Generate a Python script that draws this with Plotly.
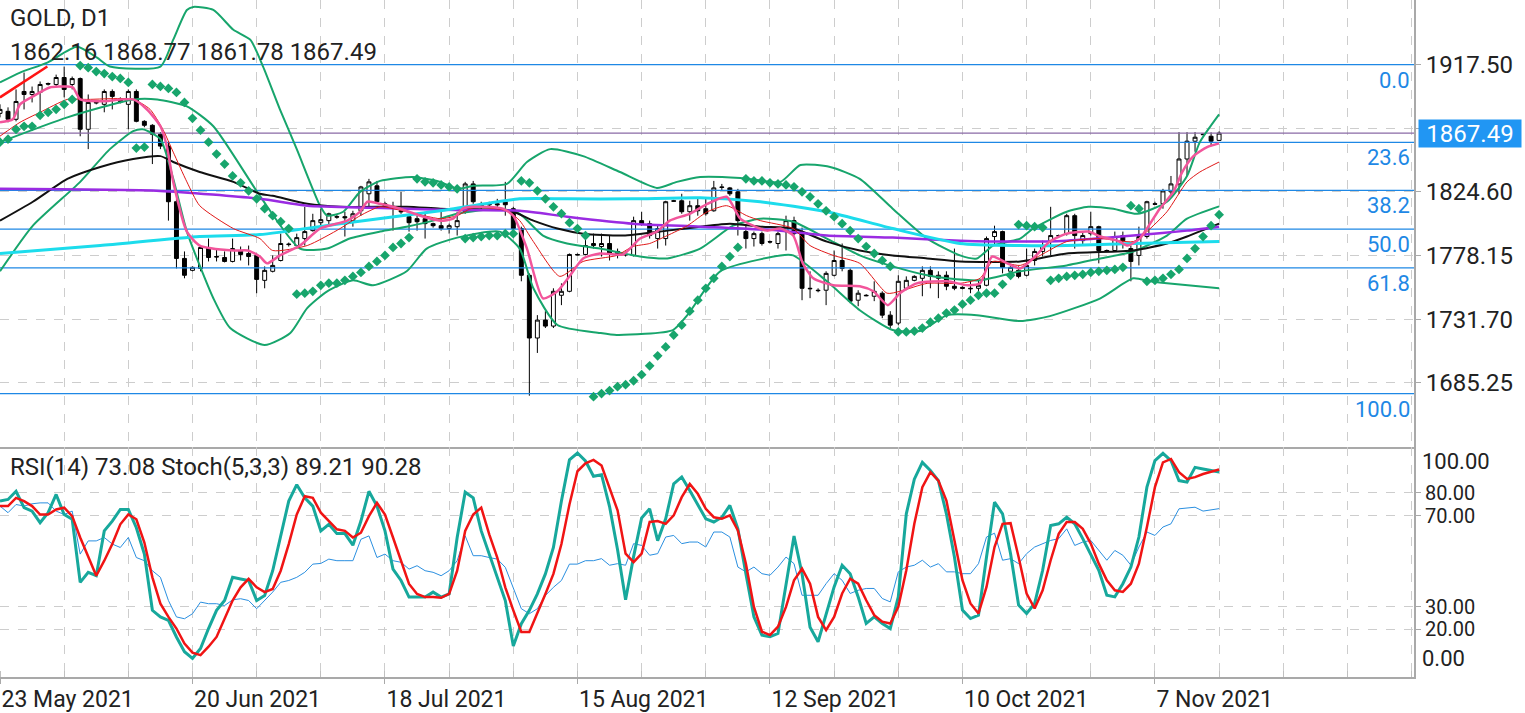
import plotly.graph_objects as go

# ---------------- data ----------------
bar_idx = list(range(153))  # daily bars, 0 = 23 May 2021

open_ = [1881.9, 1883.4, 1877.6, 1897.9, 1895.7, 1897.2, 1903.7, 1903.0, 1908.1, 1903.0,
         1907.3, 1870.3, 1889.9, 1888.5, 1897.9, 1892.1, 1888.5, 1897.9, 1876.1, 1873.2,
         1866.7, 1858.0, 1817.4, 1776.0, 1767.3, 1768.7, 1784.0, 1777.4, 1776.7, 1773.8,
         1781.8, 1779.6, 1778.2, 1760.0, 1766.6, 1774.5, 1786.1, 1785.4, 1790.5, 1796.3,
         1802.1, 1803.6, 1806.5, 1806.5, 1803.6, 1810.8, 1823.2, 1829.0, 1815.9, 1814.0,
         1810.8, 1806.5, 1805.0, 1805.0, 1801.4, 1799.9, 1797.8, 1799.2, 1810.1, 1830.4,
         1815.2, 1815.9, 1815.9, 1817.4, 1812.3, 1797.8, 1763.7, 1717.9, 1731.0, 1726.6,
         1749.1, 1752.0, 1778.9, 1778.9, 1785.4, 1784.7, 1786.9, 1781.1, 1778.9, 1778.2,
         1803.6, 1801.4, 1790.5, 1790.5, 1818.1, 1818.1, 1810.1, 1814.5, 1812.3, 1810.8,
         1828.2, 1827.5, 1824.6, 1795.6, 1790.5, 1794.1, 1788.3, 1786.9, 1795.6, 1803.6,
         1794.1, 1754.2, 1752.8, 1752.8, 1763.7, 1774.5, 1767.3, 1745.5, 1749.1, 1748.4,
         1750.6, 1734.6, 1728.8, 1754.2, 1760.0, 1761.5, 1767.3, 1761.5, 1763.7, 1755.7,
         1754.9, 1754.2, 1754.2, 1756.4, 1792.0, 1795.6, 1766.6, 1767.3, 1763.7, 1774.5,
         1781.1, 1789.0, 1792.7, 1794.1, 1807.2, 1789.0, 1794.1, 1799.2, 1781.8, 1781.8,
         1792.7, 1783.2, 1778.2, 1792.0, 1815.9, 1815.9, 1824.6, 1830.4, 1848.6, 1861.6,
         1866.7, 1865.2, 1862.16]
high = [1888.5, 1886.3, 1899.4, 1911.7, 1901.5, 1905.2, 1904.4, 1910.2, 1916.1, 1908.8,
        1908.1, 1895.7, 1891.4, 1899.4, 1899.4, 1893.6, 1899.4, 1899.4, 1876.9, 1874.0,
        1868.2, 1860.9, 1819.5, 1781.1, 1770.2, 1785.4, 1790.5, 1783.2, 1781.1, 1790.5,
        1784.7, 1785.4, 1779.6, 1770.2, 1778.2, 1794.1, 1787.6, 1794.1, 1813.7, 1808.6,
        1812.3, 1809.4, 1807.9, 1810.1, 1810.8, 1829.0, 1834.1, 1832.6, 1817.4, 1817.4,
        1824.6, 1808.6, 1807.2, 1810.1, 1802.1, 1810.1, 1801.4, 1810.1, 1831.9, 1832.6,
        1817.4, 1817.4, 1819.5, 1831.9, 1813.7, 1799.2, 1765.1, 1734.6, 1737.5, 1754.2,
        1757.8, 1779.6, 1779.6, 1794.1, 1794.1, 1794.1, 1792.7, 1783.2, 1781.1, 1806.5,
        1810.1, 1803.6, 1799.9, 1818.1, 1818.8, 1823.2, 1818.1, 1819.5, 1819.5, 1832.6,
        1830.4, 1828.2, 1826.8, 1799.9, 1795.6, 1795.6, 1789.0, 1795.6, 1807.2, 1806.5,
        1798.5, 1766.6, 1754.2, 1766.6, 1781.8, 1786.9, 1768.7, 1752.8, 1749.9, 1759.3,
        1752.0, 1737.5, 1763.7, 1762.9, 1763.7, 1770.2, 1770.2, 1766.6, 1766.6, 1783.2,
        1755.7, 1760.0, 1760.0, 1792.0, 1799.9, 1796.3, 1770.2, 1770.2, 1783.2, 1783.2,
        1789.0, 1813.7, 1793.4, 1808.6, 1808.6, 1795.6, 1810.1, 1799.9, 1782.5, 1795.6,
        1795.6, 1785.4, 1799.2, 1818.1, 1817.4, 1826.8, 1836.2, 1868.2, 1868.2, 1868.2,
        1867.4, 1868.0, 1868.77]
low = [1879.0, 1875.4, 1876.1, 1884.8, 1889.9, 1883.4, 1902.3, 1901.5, 1893.6, 1899.4,
       1865.2, 1855.8, 1888.5, 1882.7, 1884.8, 1889.2, 1870.3, 1875.4, 1871.8, 1844.9,
       1855.8, 1803.6, 1768.7, 1761.5, 1766.6, 1766.6, 1773.8, 1773.8, 1773.1, 1773.1,
       1774.5, 1770.9, 1750.6, 1754.2, 1765.8, 1773.8, 1784.7, 1783.2, 1785.4, 1795.6,
       1797.8, 1800.0, 1805.0, 1792.0, 1799.2, 1807.2, 1813.7, 1815.9, 1812.3, 1796.3,
       1808.6, 1795.6, 1796.3, 1790.5, 1798.5, 1796.3, 1794.1, 1792.7, 1808.6, 1815.9,
       1810.8, 1813.7, 1813.7, 1807.2, 1795.6, 1759.3, 1675.8, 1707.0, 1725.2, 1725.2,
       1741.9, 1751.3, 1778.2, 1778.2, 1783.2, 1777.4, 1774.5, 1776.0, 1777.4, 1777.4,
       1799.9, 1790.5, 1783.2, 1785.4, 1817.4, 1808.6, 1803.6, 1807.2, 1807.2, 1810.1,
       1825.3, 1821.7, 1792.7, 1783.2, 1784.7, 1785.4, 1786.9, 1783.2, 1781.8, 1792.7,
       1745.5, 1747.0, 1751.3, 1741.9, 1762.9, 1766.6, 1743.3, 1741.1, 1748.4, 1744.8,
       1732.4, 1725.2, 1727.3, 1752.8, 1759.3, 1748.4, 1754.2, 1747.0, 1752.8, 1752.8,
       1753.5, 1750.6, 1752.0, 1755.7, 1785.4, 1765.1, 1765.8, 1761.5, 1762.9, 1770.9,
       1777.4, 1778.2, 1792.0, 1792.7, 1783.2, 1785.4, 1792.7, 1772.4, 1781.1, 1781.1,
       1783.2, 1759.3, 1770.9, 1790.5, 1815.2, 1812.3, 1821.7, 1823.2, 1836.2, 1853.9,
       1866.0, 1858.0, 1861.78]
close = [1884.8, 1877.6, 1890.6, 1895.7, 1897.9, 1903.0, 1903.3, 1908.1, 1899.4, 1907.3,
         1870.3, 1889.9, 1889.6, 1897.9, 1894.3, 1890.6, 1897.9, 1876.1, 1873.2, 1866.7,
         1858.0, 1817.4, 1776.0, 1763.7, 1769.5, 1784.0, 1776.7, 1777.1, 1773.8, 1783.2,
         1778.9, 1777.4, 1760.7, 1767.3, 1770.9, 1786.9, 1786.4, 1791.2, 1795.6, 1803.6,
         1804.3, 1808.6, 1806.2, 1805.7, 1808.6, 1828.2, 1831.9, 1817.4, 1814.5, 1813.0,
         1810.1, 1802.1, 1802.8, 1801.4, 1799.9, 1797.8, 1799.9, 1803.6, 1830.4, 1817.4,
         1813.7, 1815.2, 1815.2, 1815.2, 1797.8, 1763.7, 1717.9, 1731.0, 1726.6, 1752.0,
         1752.0, 1778.9, 1778.6, 1785.4, 1786.9, 1786.9, 1779.6, 1778.2, 1778.6, 1803.6,
         1801.4, 1792.7, 1797.8, 1817.4, 1817.8, 1810.1, 1814.5, 1810.8, 1808.6, 1827.5,
         1827.9, 1823.2, 1803.6, 1790.5, 1794.1, 1786.9, 1788.0, 1794.1, 1803.6, 1794.1,
         1754.2, 1753.9, 1752.5, 1765.1, 1774.5, 1768.7, 1744.8, 1750.6, 1748.8, 1752.0,
         1734.6, 1727.3, 1759.3, 1760.0, 1762.9, 1767.3, 1762.9, 1763.7, 1755.7, 1754.2,
         1754.2, 1753.9, 1756.4, 1790.5, 1795.6, 1769.5, 1769.5, 1762.9, 1770.9, 1781.1,
         1785.4, 1792.7, 1792.4, 1807.2, 1792.7, 1792.7, 1799.2, 1781.8, 1781.5, 1792.0,
         1789.0, 1773.8, 1792.0, 1817.4, 1815.6, 1825.3, 1830.4, 1848.6, 1861.6, 1864.5,
         1866.4, 1861.6, 1867.49]

sar = [1860.9, 1863.1, 1870.3, 1872.5, 1872.5, 1880.5, 1882.7, 1884.9, 1888.5, 1892.1,
       1916.8, 1915.3, 1912.4, 1911.0, 1908.8, 1907.4, 1904.5, 1856.6, 1857.3, 1903.0,
       1901.6, 1900.1, 1897.2, 1889.9, 1878.3, 1869.6, 1860.9, 1852.2, 1844.9, 1836.2,
       1831.2, 1825.4, 1819.5, 1812.3, 1807.2, 1802.8, 1797.8, 1749.9, 1750.6, 1752.0,
       1756.4, 1757.9, 1757.9, 1760.0, 1762.9, 1765.8, 1770.2, 1773.8, 1778.2, 1784.0,
       1786.9, 1791.2, 1834.1, 1831.9, 1831.2, 1829.7, 1828.3, 1826.8, 1790.5, 1791.2,
       1792.0, 1792.7, 1792.7, 1794.1, 1794.1, 1832.6, 1831.2, 1825.4, 1819.5, 1813.7,
       1808.7, 1802.1, 1797.8, 1792.7, 1675.1, 1677.3, 1679.5, 1682.4, 1683.8, 1686.7,
       1691.1, 1697.6, 1704.9, 1711.4, 1720.1, 1727.4, 1737.5, 1745.5, 1754.2, 1761.5,
       1770.2, 1777.4, 1784.0, 1834.1, 1832.6, 1832.6, 1831.2, 1830.4, 1829.7, 1828.3,
       1824.6, 1821.0, 1815.9, 1810.8, 1806.5, 1801.4, 1796.3, 1790.5, 1784.7, 1779.6,
       1774.5, 1770.2, 1722.3, 1722.3, 1723.0, 1725.2, 1729.5, 1732.4, 1736.1, 1738.3,
       1742.6, 1745.5, 1749.1, 1750.6, 1750.6, 1757.1, 1763.7, 1800.7, 1799.9, 1799.2,
       1798.5, 1760.0, 1761.5, 1762.9, 1763.7, 1764.4, 1765.8, 1766.6, 1767.3, 1768.0,
       1769.5, 1814.5, 1812.3, 1759.3, 1760.0, 1761.5, 1764.4, 1768.0, 1776.0, 1783.2,
       1792.0, 1799.9, 1807.9]

bb_up_k = [0, 2.5, 5.9, 9.6, 12.1, 13.7, 20.0, 21.6, 23.3, 24.1, 26.6, 29.1, 31.2, 32.8,
           34.9, 37.0, 39.9, 40.8, 42.8, 44.9, 47.4, 51.5, 54.9, 57.0, 59.0, 63.2, 65.7,
           68.6, 72.7, 77.3, 81.9, 84.4, 87.3, 92.3, 97.3, 99.8, 103.5, 107.2, 111.3, 115.6,
           119.7, 121.8, 123.8, 127.2, 128.8, 133.0, 135.7, 138.8, 141.8, 145.5, 148.0,
           149.6, 152]
bb_up_v = [1904.5, 1911.7, 1919.0, 1930.6, 1922.6, 1916.1, 1916.1, 1935.7, 1957.4, 1959.6,
           1957.4, 1942.9, 1935.7, 1916.1, 1884.9, 1855.8, 1814.5, 1807.2, 1810.1, 1824.6,
           1832.6, 1835.5, 1831.9, 1826.8, 1829.0, 1830.4, 1846.4, 1855.8, 1850.7, 1839.1,
           1827.5, 1831.9, 1835.5, 1834.8, 1831.9, 1844.2, 1842.8, 1834.1, 1812.3, 1790.5,
           1778.2, 1776.0, 1785.4, 1790.5, 1797.8, 1810.1, 1813.7, 1812.3, 1808.6, 1817.4,
           1836.2, 1860.9, 1881.2]
bb_mid_k = [0, 8.4, 16.6, 19.6, 23.3, 26.6, 32.4, 37.4, 40.8, 43.6, 47.4, 50.7, 54.0, 57.0,
            62.3, 64.8, 67.7, 70.7, 74.8, 79.8, 83.2, 87.3, 91.4, 94.8, 98.9, 103.1, 107.2,
            111.3, 115.6, 118.1, 122.2, 127.2, 133.0, 137.2, 141.3, 145.5, 148.0, 152]
bb_mid_v = [1860.9, 1879.0, 1892.1, 1892.1, 1887.0, 1872.5, 1821.7, 1783.2, 1783.2, 1790.5,
            1795.6, 1799.2, 1803.6, 1808.6, 1812.3, 1808.6, 1792.7, 1786.9, 1783.2, 1777.4,
            1776.0, 1783.2, 1799.9, 1805.0, 1802.8, 1790.5, 1778.2, 1770.2, 1763.7, 1761.5,
            1760.0, 1766.6, 1770.9, 1776.0, 1781.1, 1792.7, 1805.0, 1814.0]
bb_lo_k = [0, 4.1, 10.0, 13.7, 16.6, 17.8, 20.0, 21.6, 23.3, 26.6, 28.7, 33.0, 36.2, 38.3,
           40.8, 44.0, 46.5, 50.7, 53.2, 57.0, 62.3, 64.8, 66.5, 69.5, 74.8, 76.9, 83.9,
           85.7, 89.8, 97.3, 98.9, 103.1, 107.2, 111.3, 114.7, 118.1, 121.8, 127.2, 130.9,
           137.2, 141.3, 143.4, 145.5, 152]
bb_lo_v = [1766.6, 1799.9, 1831.9, 1855.8, 1868.9, 1870.3, 1863.1, 1834.1, 1795.6, 1746.9,
           1725.2, 1712.8, 1721.6, 1739.7, 1752.0, 1760.0, 1756.4, 1766.6, 1783.2, 1791.2,
           1795.6, 1783.2, 1754.2, 1727.4, 1721.6, 1720.1, 1723.7, 1734.6, 1766.6, 1778.2,
           1778.2, 1759.3, 1738.2, 1723.7, 1723.0, 1734.6, 1734.6, 1730.3, 1733.9, 1746.9,
           1761.5, 1759.3, 1757.8, 1754.2]

ma_black_k = [0, 4.1, 8.4, 12.5, 16.6, 20.0, 21.6, 24.9, 29.1, 32.4, 34.0, 38.3, 42.4, 50.7,
              54.9, 63.6, 66.5, 69.5, 72.7, 77.7, 83.2, 87.3, 91.0, 94.8, 98.9, 103.1, 107.2,
              111.3, 115.6, 119.7, 127.2, 133.0, 141.3, 145.5, 148.0, 152]
ma_black_v = [1803.6, 1817.4, 1834.1, 1842.8, 1848.6, 1850.7, 1846.4, 1839.1, 1831.9, 1823.2,
              1821.7, 1815.9, 1813.7, 1813.7, 1812.3, 1810.8, 1803.6, 1797.8, 1794.1, 1792.7,
              1796.3, 1799.2, 1801.4, 1799.2, 1797.8, 1788.3, 1781.8, 1778.2, 1776.0, 1773.8,
              1773.8, 1779.6, 1781.8, 1786.9, 1792.0, 1801.4]
ma_purple_k = [0, 20.0, 32.4, 38.3, 46.5, 54.9, 64.8, 70.7, 78.9, 87.3, 97.3, 103.1, 111.3,
               119.7, 127.2, 133.0, 141.3, 148.0, 152]
ma_purple_v = [1826.8, 1825.3, 1819.5, 1814.5, 1813.0, 1811.6, 1810.8, 1806.5, 1801.4, 1799.2,
               1796.3, 1792.7, 1791.2, 1789.0, 1788.3, 1789.0, 1792.7, 1796.3, 1799.2]
ma_cyan_k = [0, 12.5, 24.9, 32.4, 42.4, 54.9, 64.8, 70.7, 78.9, 87.3, 94.8, 103.1, 111.3,
             119.7, 127.2, 133.0, 141.3, 152]
ma_cyan_v = [1779.6, 1785.4, 1792.0, 1793.4, 1801.4, 1810.8, 1819.5, 1819.5, 1819.5, 1820.3,
             1817.4, 1810.1, 1797.8, 1786.9, 1785.4, 1785.4, 1786.9, 1788.3]
ma_pink_k = [0, 1.6, 2.5, 4.1, 6.2, 8.4, 9.1, 10.0, 12.5, 16.6, 18.3, 20.0, 20.8, 21.6, 23.3,
             24.9, 29.1, 30.9, 32.4, 33.3, 34.9, 37.4, 39.9, 43.3, 44.9, 45.8, 47.4, 49.9,
             52.4, 54.9, 56.5, 57.7, 59.0, 62.7, 64.0, 65.7, 67.7, 69.5, 71.1, 72.7, 74.8,
             77.7, 79.8, 81.9, 83.5, 86.0, 88.2, 90.6, 92.3, 93.9, 95.6, 97.3, 98.9, 100.1,
             101.4, 103.9, 107.2, 108.9, 110.7, 112.2, 114.3, 118.1, 120.6, 122.2, 123.7,
             125.6, 127.2, 128.8, 130.9, 133.0, 135.7, 137.2, 139.3, 140.6, 142.1, 143.0,
             144.6, 146.3, 147.4, 148.8, 150.5, 152]
ma_pink_v = [1875.4, 1877.6, 1888.5, 1894.3, 1900.8, 1901.5, 1900.8, 1892.1, 1890.7, 1892.1,
             1884.9, 1872.5, 1858.0, 1831.9, 1795.6, 1785.4, 1781.8, 1781.8, 1777.4, 1772.4,
             1778.2, 1785.4, 1797.8, 1803.6, 1810.1, 1817.4, 1815.9, 1812.3, 1807.2, 1803.6,
             1805.0, 1812.3, 1813.7, 1812.3, 1807.2, 1783.2, 1746.9, 1752.0, 1763.7, 1776.0,
             1779.6, 1778.9, 1790.5, 1795.6, 1803.6, 1808.6, 1815.9, 1821.0, 1805.0, 1799.9,
             1796.3, 1797.8, 1792.7, 1772.4, 1761.5, 1756.4, 1755.7, 1752.0, 1741.9, 1750.6,
             1757.8, 1759.3, 1756.4, 1757.8, 1777.4, 1772.4, 1768.7, 1776.0, 1788.3, 1794.1,
             1795.6, 1792.0, 1789.0, 1785.4, 1790.5, 1797.8, 1812.3, 1824.6, 1839.1, 1850.7,
             1857.3, 1860.0]
ma_red_k = [0, 2.5, 5.0, 8.4, 10.8, 16.6, 18.7, 20.3, 21.6, 23.3, 24.9, 29.1, 32.4, 34.0,
            38.3, 42.4, 44.9, 47.4, 50.7, 54.9, 57.0, 59.0, 63.2, 64.8, 66.5, 69.8, 72.7,
            76.9, 78.9, 81.0, 83.2, 85.7, 88.2, 90.6, 93.1, 94.8, 98.9, 101.0, 103.9, 107.2,
            110.6, 112.2, 115.6, 119.7, 122.2, 123.8, 127.2, 129.7, 133.0, 137.2, 141.3,
            143.0, 145.5, 148.0, 149.6, 152]
ma_red_v = [1865.3, 1875.4, 1882.7, 1892.1, 1892.1, 1892.1, 1884.9, 1870.3, 1853.6, 1831.9,
            1814.5, 1797.8, 1790.5, 1781.8, 1785.4, 1797.8, 1807.2, 1813.7, 1810.1, 1805.0,
            1807.2, 1813.0, 1810.8, 1803.6, 1788.3, 1762.9, 1773.8, 1778.2, 1784.7, 1786.9,
            1792.7, 1799.9, 1810.1, 1814.5, 1807.2, 1803.6, 1797.8, 1785.4, 1778.2, 1772.4,
            1750.6, 1752.0, 1757.8, 1757.8, 1761.5, 1773.8, 1770.9, 1778.2, 1788.3, 1790.5,
            1788.3, 1795.6, 1810.1, 1831.9, 1839.1, 1846.4]
ma_red2_k = [0, 5.9]
ma_red2_v = [1893.6, 1916.1]

fib_names = ["0.0", "23.6", "38.2", "50.0", "61.8", "100.0"]
fib_prices = [1917.5, 1860.8, 1825.7, 1797.4, 1769.1, 1677.3]

price_ticks = [1685.25, 1731.70, 1778.15, 1824.60, 1871.05, 1917.50]
osc_ticks = [20, 30, 70, 80]
osc_edge_labels = [100, 0]

tick_idx = [0, 24, 48, 72, 96, 120, 144]
tick_txt = ["23 May 2021", "20 Jun 2021", "18 Jul 2021", "15 Aug 2021",
            "12 Sep 2021", "10 Oct 2021", "7 Nov 2021"]

stoch_main = [76.4, 77.1, 80.7, 73.5, 72.0, 66.9, 71.3, 79.3, 70.5, 68.4,
              40.7, 45.1, 43.6, 63.3, 67.6, 72.7, 72.7, 64.7, 53.1, 28.4,
              25.5, 24.0, 16.7, 10.2, 7.3, 11.6, 20.4, 28.4, 32.7, 42.9,
              42.2, 41.5, 32.7, 34.9, 45.8, 60.4, 76.4, 83.6, 77.8, 74.2,
              63.3, 66.2, 62.1, 62.1, 57.0, 67.6, 80.7, 74.2, 63.3, 46.5,
              41.5, 34.2, 34.2, 34.2, 36.4, 34.2, 35.6, 60.4, 80.3, 77.8,
              63.3, 53.1, 42.9, 32.7, 12.7, 22.5, 28.4, 35.6, 44.4, 56.0,
              76.4, 94.5, 97.5, 94.0, 87.3, 88.0, 74.0, 55.0, 33.0, 52.0,
              69.0, 73.0, 59.0, 68.6, 84.0, 87.0, 81.0, 74.5, 68.6, 67.2,
              69.3, 74.5, 64.2, 44.5, 25.5, 17.5, 16.8, 18.2, 40.0, 61.0,
              44.5, 21.0, 14.6, 27.0, 38.7, 48.2, 44.5, 34.3, 22.6, 25.5,
              22.6, 20.4, 34.3, 70.8, 86.0, 93.4, 89.8, 85.4, 70.8, 51.8,
              28.5, 24.8, 26.3, 51.8, 75.9, 70.8, 53.3, 30.7, 27.0, 31.4,
              46.0, 65.7, 66.4, 69.3, 66.4, 59.9, 53.3, 46.0, 35.0, 34.3,
              40.1, 47.4, 60.6, 82.5, 94.2, 97.4, 94.2, 85.4, 84.7, 91.2,
              90.5, 90.0, 89.21]
stoch_signal = [74.2, 74.2, 77.8, 76.4, 74.2, 70.5, 70.5, 72.7, 73.5, 69.8,
                60.4, 51.6, 43.6, 50.2, 57.5, 66.2, 70.5, 68.4, 58.2, 42.9,
                31.3, 25.5, 20.4, 13.8, 9.8, 8.7, 12.4, 16.7, 24.7, 32.7,
                38.5, 42.2, 38.5, 36.4, 37.8, 45.8, 57.5, 70.5, 78.5, 77.8,
                71.3, 67.6, 64.0, 63.3, 60.4, 62.5, 69.8, 75.6, 70.5, 60.4,
                50.2, 40.0, 35.6, 34.2, 34.2, 33.9, 35.6, 45.8, 63.3, 70.5,
                73.5, 61.8, 51.6, 38.5, 28.4, 18.9, 18.9, 26.9, 35.6, 44.4,
                57.5, 74.9, 89.5, 93.0, 94.5, 92.0, 82.5, 72.3, 53.3, 49.6,
                53.3, 67.2, 67.6, 66.4, 70.1, 78.1, 83.9, 79.6, 73.0, 69.3,
                68.6, 70.1, 63.5, 48.9, 29.9, 19.0, 17.5, 21.2, 29.9, 41.6,
                46.7, 40.1, 25.5, 19.7, 25.5, 35.8, 42.3, 40.1, 32.8, 26.3,
                23.4, 22.6, 29.9, 46.0, 66.4, 82.5, 89.1, 85.4, 76.6, 59.1,
                41.6, 31.4, 27.0, 38.7, 56.2, 66.4, 66.7, 51.8, 35.8, 29.2,
                37.2, 50.4, 62.0, 67.2, 67.2, 64.2, 57.7, 48.9, 41.6, 37.2,
                36.5, 40.1, 48.9, 65.0, 82.5, 93.4, 94.9, 89.1, 86.1, 86.9,
                88.3, 89.3, 90.28]
rsi = [74.2, 71.3, 74.9, 74.2, 75.2, 75.6, 75.6, 72.0, 70.5, 72.0,
       53.1, 58.9, 58.9, 60.4, 57.5, 56.0, 60.4, 51.6, 50.2, 45.8,
       42.9, 32.7, 25.5, 24.7, 26.9, 32.0, 31.3, 31.3, 30.5, 33.0,
       33.5, 32.7, 29.1, 32.7, 36.4, 40.7, 41.5, 42.9, 45.1, 48.7,
       49.0, 50.9, 50.2, 50.2, 50.2, 59.6, 61.1, 51.6, 53.1, 50.2,
       49.5, 46.5, 48.0, 45.8, 45.1, 43.6, 45.8, 50.2, 61.1, 52.4,
       52.4, 51.6, 50.9, 47.3, 38.5, 29.1, 26.9, 29.1, 34.9, 38.5,
       41.5, 48.7, 48.7, 50.2, 50.2, 51.1, 48.2, 48.9, 48.2, 57.7,
       56.9, 52.6, 53.3, 60.6, 61.3, 57.7, 58.4, 58.4, 56.2, 62.8,
       62.8, 60.6, 47.4, 45.3, 47.4, 44.5, 43.8, 47.4, 51.8, 48.9,
       35.0, 35.0, 35.0, 40.1, 44.5, 41.6, 35.8, 37.2, 38.0, 38.0,
       33.6, 32.1, 45.3, 47.4, 48.2, 50.4, 47.4, 48.9, 45.3, 45.3,
       44.5, 44.5, 48.9, 60.6, 62.3, 50.4, 51.1, 48.9, 53.3, 56.2,
       57.7, 59.1, 59.9, 64.2, 56.9, 58.4, 59.1, 54.7, 50.4, 54.7,
       52.6, 48.2, 56.2, 62.8, 61.3, 65.0, 66.4, 73.0, 73.4, 73.7,
       72.0, 72.5, 73.08]

# ---------------- figure ----------------
FONT = "Roboto"
GREEN = "#17a56c"
GRID = "#cdcdcd"
FIB = "#1e88e5"
X_RANGE = [0, 176.3]
SPLIT = 231 / 681

fig = go.Figure()


def add_line(k, v, color, width, shape="spline", xa="x", ya="y"):
    fig.add_trace(go.Scatter(
        x=k, y=v, mode="lines", hoverinfo="skip", showlegend=False, xaxis=xa, yaxis=ya,
        line=dict(color=color, width=width, shape=shape,
                  smoothing=0.6 if shape == "spline" else None)))


# Fibonacci levels and current-price line, spanning the whole axis range
for p in fib_prices:
    add_line(X_RANGE, [p, p], FIB, 1.3, shape="linear")
add_line(X_RANGE, [close[-1], close[-1]], "#8a6aa6", 1.3, shape="linear")

fig.add_trace(go.Candlestick(
    x=bar_idx, open=open_, high=high, low=low, close=close,
    increasing=dict(line=dict(color="#000000", width=1), fillcolor="#ffffff"),
    decreasing=dict(line=dict(color="#000000", width=1), fillcolor="#000000"),
    whiskerwidth=0, hoverinfo="skip", showlegend=False, xaxis="x", yaxis="y"))

add_line(bb_up_k, bb_up_v, GREEN, 2)
add_line(bb_mid_k, bb_mid_v, GREEN, 2)
add_line(bb_lo_k, bb_lo_v, GREEN, 2)
add_line(ma_black_k, ma_black_v, "#111111", 2)
add_line(ma_purple_k, ma_purple_v, "#9a2be2", 2.5)
add_line(ma_cyan_k, ma_cyan_v, "#1cdcec", 3)
add_line(ma_red_k, ma_red_v, "#e01818", 1)
add_line(ma_pink_k, ma_pink_v, "#f2559b", 2.5)
add_line(ma_red2_k, ma_red2_v, "#ff1414", 2.5)

fig.add_trace(go.Scatter(
    x=bar_idx, y=sar, mode="markers", hoverinfo="skip", showlegend=False,
    marker=dict(symbol="diamond", size=7.5, color=GREEN, line=dict(width=0)),
    xaxis="x", yaxis="y"))

add_line(bar_idx, rsi, "#2a8fe0", 1, shape="linear", xa="x2", ya="y2")
add_line(bar_idx, stoch_main, "#17a89c", 3, shape="linear", xa="x2", ya="y2")
add_line(bar_idx, stoch_signal, "#f01414", 2.5, shape="linear", xa="x2", ya="y2")

annotations = []
for name, p in zip(fib_names, fib_prices):
    annotations.append(dict(xref="x domain", yref="y", x=1, y=p, xanchor="right",
                            yanchor="top", xshift=-2, yshift=-1, text=name, showarrow=False,
                            font=dict(family=FONT, size=22, color=FIB)))
annotations.append(dict(xref="x domain", yref="y domain", x=0.006, y=1 - 18 / 450,
                        xanchor="left", yanchor="middle", text="GOLD, D1", showarrow=False,
                        font=dict(family=FONT, size=24, color="#222")))
annotations.append(dict(xref="x domain", yref="y domain", x=0.006, y=1 - 52 / 450,
                        xanchor="left", yanchor="middle",
                        text=f"{open_[-1]:.2f} {high[-1]:.2f} {low[-1]:.2f} {close[-1]:.2f}",
                        showarrow=False, font=dict(family=FONT, size=24, color="#222")))
annotations.append(dict(xref="x2 domain", yref="y2 domain", x=0.006, y=1 - 20 / 231,
                        xanchor="left", yanchor="middle",
                        text=f"RSI(14) {rsi[-1]:.2f} Stoch(5,3,3) {stoch_main[-1]:.2f} {stoch_signal[-1]:.2f}",
                        showarrow=False, font=dict(family=FONT, size=24, color="#222")))
annotations.append(dict(xref="x domain", yref="y", x=1, y=close[-1], xanchor="left",
                        yanchor="middle", xshift=4, text=f"{close[-1]:.2f}", showarrow=False,
                        bgcolor="#2196f3", borderpad=0, width=102, height=27,
                        font=dict(family=FONT, size=24, color="#ffffff")))
edge_pos = {100: 1 - 14 / 231, 0: 19 / 231}
for v in osc_edge_labels:
    annotations.append(dict(xref="x2 domain", yref="y2 domain", x=1, y=edge_pos[v],
                            xanchor="left", yanchor="middle", xshift=6, text=f"{v:.2f}",
                            showarrow=False, font=dict(family=FONT, size=22, color="#222")))

fig.update_layout(
    width=1525, height=713, margin=dict(l=0, r=111, t=0, b=32),
    paper_bgcolor="white", plot_bgcolor="white", showlegend=False,
    font=dict(family=FONT, size=24, color="#222"),
    annotations=annotations,
    xaxis=dict(domain=[0, 1], range=X_RANGE, anchor="y", showticklabels=False,
               tickmode="linear", tick0=0, dtick=8, ticks="",
               showgrid=True, gridcolor=GRID, griddash="dash", gridwidth=1,
               zeroline=False, showline=True, linecolor="#a9a9a9", linewidth=2,
               rangeslider=dict(visible=False)),
    xaxis2=dict(domain=[0, 1], range=X_RANGE, anchor="y2", matches="x",
                tickmode="array", tickvals=tick_idx, ticktext=tick_txt,
                ticks="outside", ticklen=5, tickcolor="#a9a9a9",
                ticklabelposition="outside right",
                tickfont=dict(family=FONT, size=23, color="#222"),
                showgrid=True, gridcolor=GRID, griddash="dash", gridwidth=1,
                minor=dict(tickmode="linear", tick0=0, dtick=8, ticks="inside",
                           ticklen=6, tickcolor="#c0c0c0", showgrid=True,
                           gridcolor=GRID, griddash="dash", gridwidth=1),
                zeroline=False, showline=True, linecolor="#a9a9a9", linewidth=2),
    yaxis=dict(domain=[SPLIT, 1], range=[1638.07, 1964.68], anchor="x", side="right",
               tickmode="array", tickvals=price_ticks,
               ticktext=[f"{v:.2f}" if v != 1871.05 else "" for v in price_ticks],
               ticks="outside", ticklen=5, tickcolor="#a9a9a9",
               tickfont=dict(family=FONT, size=24, color="#222"),
               showgrid=True, gridcolor=GRID, griddash="dash", gridwidth=1,
               zeroline=False, showline=True, linecolor="#a9a9a9", linewidth=2),
    yaxis2=dict(domain=[0, SPLIT], range=[-0.9, 100], anchor="x2", side="right",
                tickmode="array", tickvals=osc_ticks,
                ticktext=[f"{v:.2f}" for v in osc_ticks],
                ticks="outside", ticklen=5, tickcolor="#a9a9a9",
                tickfont=dict(family=FONT, size=20, color="#222"),
                showgrid=True, gridcolor=GRID, griddash="dash", gridwidth=1,
                zeroline=False, showline=True, linecolor="#a9a9a9", linewidth=2),
)

fig.write_html("out.html")
